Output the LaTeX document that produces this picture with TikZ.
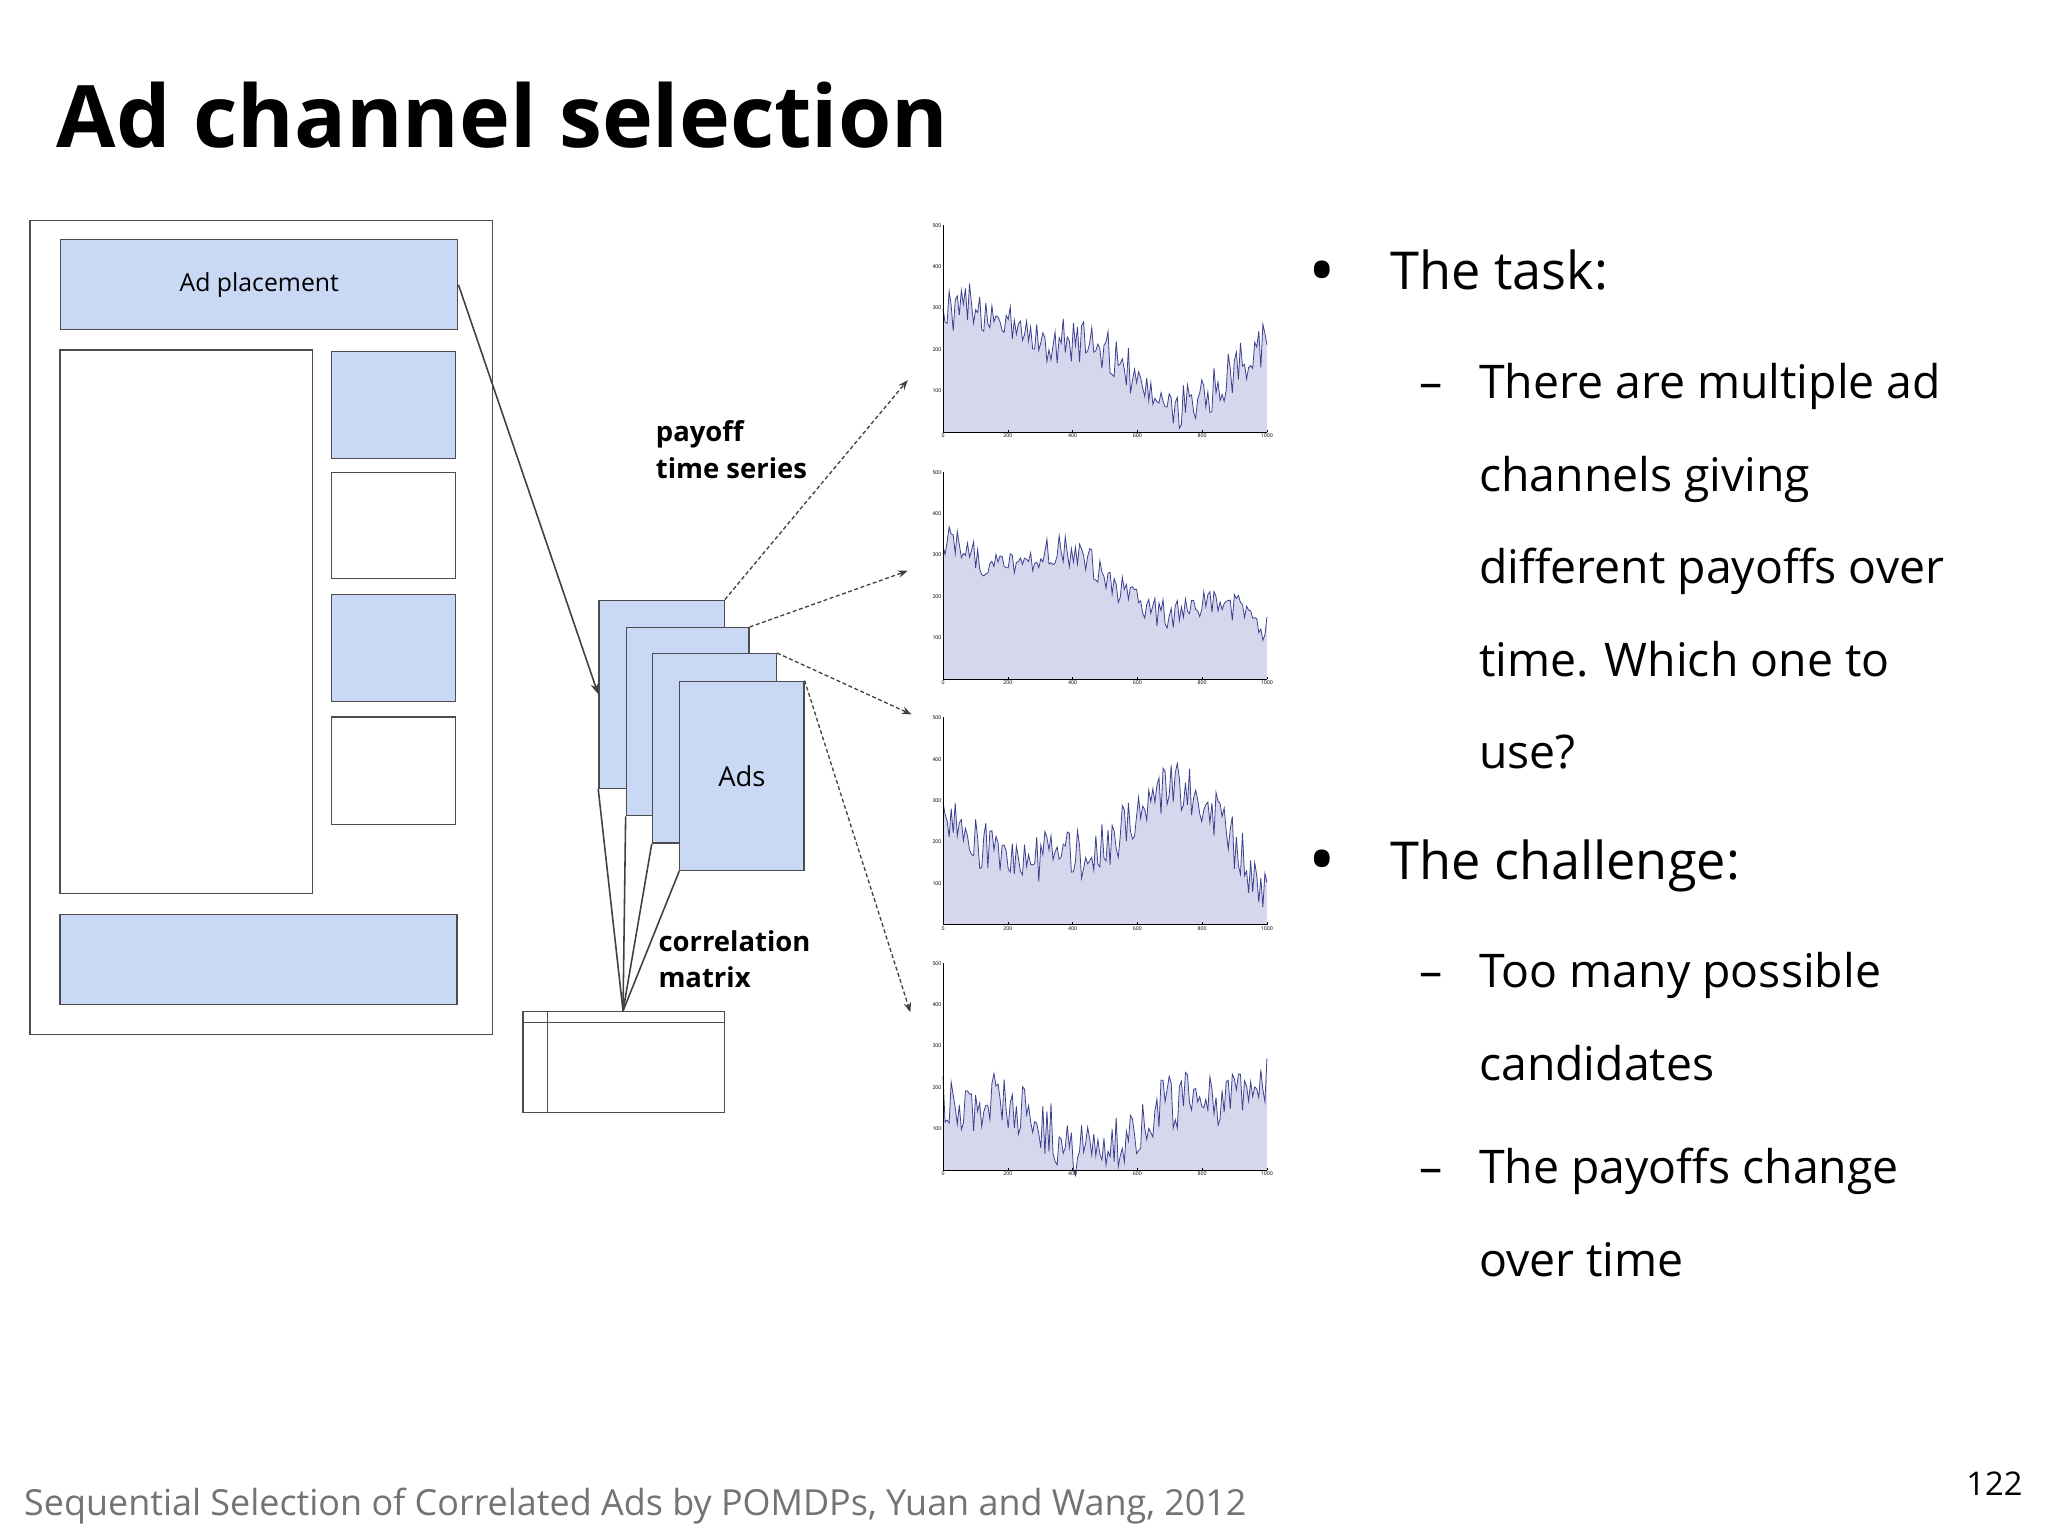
\documentclass[tikz,border=0pt]{standalone}
\usepackage{fontspec}
\setmainfont{Open Sans}
\usetikzlibrary{arrows.meta}
\definecolor{adblue}{HTML}{C9D9F5}
\definecolor{plotfill}{HTML}{D6D6EC}
\definecolor{plotline}{HTML}{3A3F8F}
\begin{document}
\begin{tikzpicture}[x=1pt,y=-1pt,
  >={Stealth},
  box/.style={draw=black!70, line width=1pt},
  bluebox/.style={box, fill=adblue},
  card/.style={draw=black!70, line width=1pt, fill=adblue},
  feed/.style={->, densely dashed, line width=1pt, black!75},
  link/.style={line width=1.2pt, black!75},
  bull/.style={anchor=base west, font=\fontsize{40}{40}\selectfont},
  sub/.style={anchor=base west, font=\fontsize{35.5}{36}\selectfont},
  tick/.style={font=\fontsize{4}{4}\selectfont, inner sep=1pt}
]
\useasboundingbox[fill=white] (0,0) rectangle (1568,1176);

% Title
\node[anchor=base west, font=\fontsize{66}{66}\selectfont\bfseries] (title) at (40,113) {Ad channel selection};

% Page mock-up
\draw[box] (23,169) rectangle (377,792);
\node[bluebox, minimum width=304pt, minimum height=69pt, anchor=north west, font=\fontsize{19}{19}\selectfont] (place) at (46,183) {Ad placement};
\draw[box] (46,268) rectangle (239,684);
\draw[bluebox] (254,269) rectangle (349,351);
\draw[box] (254,362) rectangle (349,443);
\draw[bluebox] (254,455) rectangle (349,537);
\draw[box] (254,549) rectangle (349,631);
\draw[bluebox] (46,700) rectangle (350,769);

% Ads cards
\node[card, minimum width=96pt, minimum height=144pt, anchor=north west] (ad1) at (458,459) {};
\node[card, minimum width=94pt, minimum height=144pt, anchor=north west] (ad2) at (479,480) {};
\node[card, minimum width=95pt, minimum height=145pt, anchor=north west] (ad3) at (499,500) {};
\node[card, minimum width=95pt, minimum height=145pt, anchor=north west, font=\fontsize{21}{21}\selectfont] (ad4) at (520,521) {Ads};
\draw[->, link] (place.east) -- (ad1.west);

% Correlation matrix
\node[box, minimum width=154pt, minimum height=77pt, anchor=north west] (matrix) at (400,774) {};
\coordinate (mtop) at (477,774);
\draw[box] (400,783) -- (554,783);
\draw[box] (419,774) -- (419,851);
\foreach \c in {ad1,ad2,ad3,ad4}
  \draw[link] (\c.south west) -- (mtop);
\node[anchor=north west, align=left, font=\fontsize{21}{28}\selectfont\bfseries, inner sep=0pt] (lpay) at (502,322) {payoff\\time series};
\node[anchor=north west, align=left, font=\fontsize{21}{28}\selectfont\bfseries, inner sep=0pt] (lcor) at (504,712) {correlation\\matrix};

% Time series charts
\foreach \i/\top/\a/\b/\c in {1/172/60/0.9/18, 2/361/70/0.5/12, 3/549/70/1.4/20, 4/737/55/0.7/22}{
  \pgfmathsetmacro{\bot}{\top+159}
  \coordinate (chart\i) at (722,\top+120);
  \pgfmathsetseed{\i13}
  \fill[plotfill] (722,\bot) -- plot[domain=722:970, samples=160]
     (\x,{\bot-\a-30*sin(\b*(\x-722)*1.4+\i*40)-12*sin(3.1*(\x-722)+\i*70)-\c*rand}) -- (970,\bot) -- cycle;
  \pgfmathsetseed{\i13}
  \draw[plotline, line width=0.6pt] plot[domain=722:970, samples=160]
     (\x,{\bot-\a-30*sin(\b*(\x-722)*1.4+\i*40)-12*sin(3.1*(\x-722)+\i*70)-\c*rand});
  \draw[line width=0.5pt] (722,\top) -- (722,\bot) -- (970,\bot);
  \foreach \k [count=\n from 0] in {0,200,400,600,800,1000}{
    \draw[line width=0.4pt] (722+\n*49.6,\bot) -- ++(0,-2);
    \node[tick, below] at (722+\n*49.6,\bot) {\k};
  }
  \foreach \k [count=\n from 1] in {100,200,300,400,500}
    \node[tick, left] at (722,\bot-\n*31.7) {\k};
}
\draw[feed] (ad1.north east) -- (695,291);
\draw[feed] (ad2.north east) -- (695,437);
\draw[feed] (ad3.north east) -- (698,547);
\draw[feed] (ad4.north east) -- (697,775);

% Bullets
\node[bull, font=\fontsize{56}{56}\selectfont] (b1) at (998,227) {•};
\node[bull] (t1) at (1061,222) {The task:};
\node[sub] at (1083,305) {–};
\node[sub] at (1129,305) {There are multiple ad};
\node[sub] at (1129,376) {channels giving};
\node[sub] at (1129,447) {different payoffs over};
\node[sub] at (1129,518) {time. Which one to};
\node[sub] at (1129,588) {use?};
\node[bull, font=\fontsize{56}{56}\selectfont] (b2) at (998,678) {•};
\node[bull] (t2) at (1061,673) {The challenge:};
\node[sub] at (1083,756) {–};
\node[sub] at (1129,756) {Too many possible};
\node[sub] at (1129,827) {candidates};
\node[sub] at (1083,906) {–};
\node[sub] at (1129,906) {The payoffs change};
\node[sub] at (1129,977) {over time};

% Footer
\node[anchor=base west, text=black!55, font=\fontsize{27.5}{28}\selectfont] (foot) at (15,1160) {Sequential Selection of Correlated Ads by POMDPs, Yuan and Wang, 2012};
\node[anchor=base west, font=\fontsize{25}{25}\selectfont] (page) at (1502,1145) {122};
\end{tikzpicture}
\end{document}
